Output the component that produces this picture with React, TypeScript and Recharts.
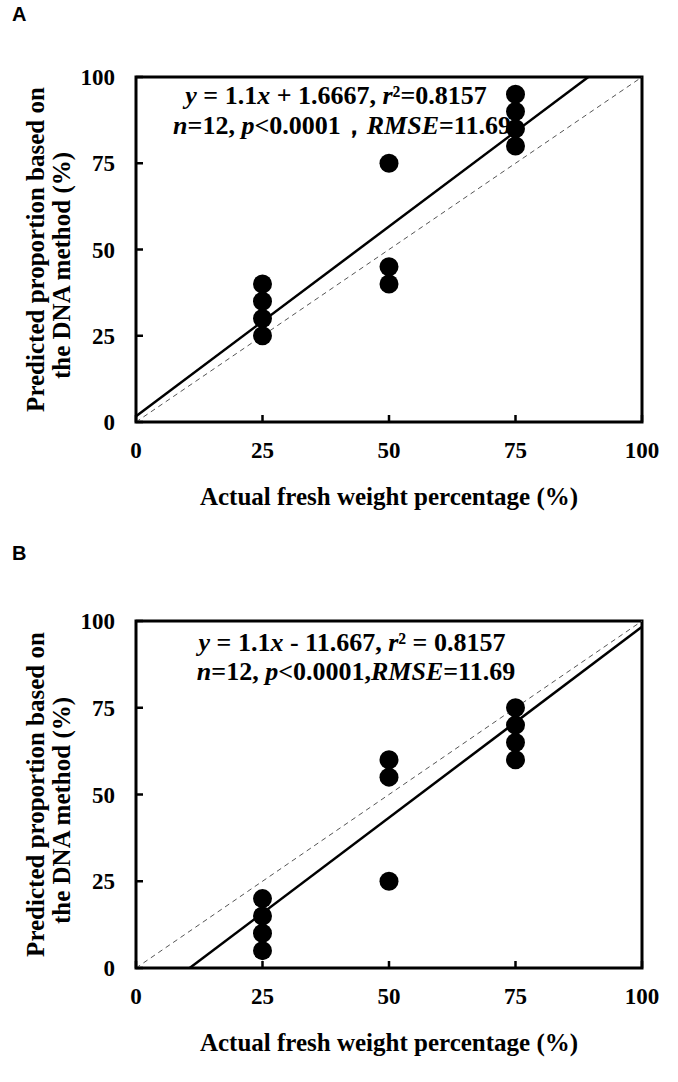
import { ReferenceArea, ReferenceLine, Scatter, ScatterChart, XAxis, YAxis } from "recharts";

const SERIF = '"Liberation Serif", "Times New Roman", serif';
const TICKS = [0, 25, 50, 75, 100];

// panel A: prediction vs actual
const xA = [25, 25, 25, 25, 50, 50, 50, 75, 75, 75, 75];
const yA = [25, 30, 35, 40, 40, 45, 75, 80, 85, 90, 95];
const slopeA = 1.1;
const interceptA = 1.6667;

// panel B
const xB = [25, 25, 25, 25, 50, 50, 50, 75, 75, 75, 75];
const yB = [5, 10, 15, 20, 25, 55, 60, 60, 65, 70, 75];
const slopeB = 1.1;
const interceptB = -11.667;

const tickStyle = { fill: "#000", fontSize: 23, fontWeight: "bold", fontFamily: SERIF };

const Dot = (p: any) => <circle cx={p.cx} cy={p.cy} r={9.5} fill="#000" />;

function YTitle({ viewBox }: any) {
  const mid = viewBox.y + viewBox.height / 2;
  const common = {
    fill: "#000",
    fontSize: 25,
    fontWeight: "bold" as const,
    fontFamily: SERIF,
    textAnchor: "middle" as const,
  };
  return (
    <g>
      <text {...common} transform={`translate(44, ${mid}) rotate(-90)`}>
        Predicted proportion based on
      </text>
      <text {...common} transform={`translate(70, ${mid + 16}) rotate(-90)`}>
        the DNA method (%)
      </text>
    </g>
  );
}

type PanelProps = {
  xs: number[];
  ys: number[];
  slope: number;
  intercept: number;
  height: number;
  axisHeight: number;
};

function Panel({ xs, ys, slope, intercept, height, axisHeight }: PanelProps) {
  const data = xs.map((x, i) => ({ x, y: ys[i] }));
  // fitted line clipped to the 0-100 box
  const x0 = Math.max(0, -intercept / slope);
  const x1 = Math.min(100, (100 - intercept) / slope);

  return (
    <ScatterChart
      width={678}
      height={height}
      margin={{ top: 77, right: 36, left: 0, bottom: 0 }}
      style={{ fontFamily: SERIF }}
    >
      <XAxis
        type="number"
        dataKey="x"
        domain={[0, 100]}
        ticks={TICKS}
        height={axisHeight}
        axisLine={false}
        tick={tickStyle}
        tickSize={-7}
        tickMargin={27}
        tickLine={{ stroke: "#000", strokeWidth: 2.5 }}
        label={{
          value: "Actual fresh weight percentage (%)",
          position: "insideTop",
          offset: 65,
          fill: "#000",
          fontSize: 25,
          fontWeight: "bold",
          fontFamily: SERIF,
        }}
      />
      <YAxis
        type="number"
        dataKey="y"
        domain={[0, 100]}
        ticks={TICKS}
        width={136}
        axisLine={false}
        tick={tickStyle}
        tickSize={-7}
        tickMargin={28}
        tickLine={{ stroke: "#000", strokeWidth: 2.5 }}
        label={<YTitle />}
      />
      <ReferenceLine
        segment={[
          { x: 0, y: 0 },
          { x: 100, y: 100 },
        ]}
        stroke="#555"
        strokeWidth={1}
        strokeDasharray="5 4"
      />
      <ReferenceLine
        segment={[
          { x: x0, y: slope * x0 + intercept },
          { x: x1, y: slope * x1 + intercept },
        ]}
        stroke="#000"
        strokeWidth={2.5}
      />
      <Scatter data={data} shape={Dot} isAnimationActive={false} />
      <ReferenceArea x1={0} x2={100} y1={0} y2={100} fill="none" stroke="#000" strokeWidth={3} />
    </ScatterChart>
  );
}

const noteStyle: React.CSSProperties = {
  position: "absolute",
  transform: "translate(-50%, -50%)",
  whiteSpace: "nowrap",
  fontFamily: SERIF,
  fontWeight: "bold",
  fontSize: 26,
  lineHeight: "30px",
  color: "#000",
};

const letterStyle: React.CSSProperties = {
  position: "absolute",
  left: 12,
  fontFamily: '"Liberation Sans", Arial, sans-serif',
  fontWeight: "bold",
  fontSize: 20,
  lineHeight: "20px",
};

export default function App() {
  return (
    <div style={{ position: "absolute", left: 0, top: 0, width: 678, height: 1082, background: "#fff" }}>
      <div style={{ ...letterStyle, top: 4 }}>A</div>
      <div style={{ ...letterStyle, top: 543 }}>B</div>

      <div style={{ position: "absolute", left: 0, top: 0 }}>
        <Panel xs={xA} ys={yA} slope={slopeA} intercept={interceptA} height={545} axisHeight={123} />
      </div>
      <div style={{ ...noteStyle, left: 336, top: 96 }}>
        <i>y</i> = 1.1<i>x</i> + 1.6667, <i>r</i>²=0.8157
      </div>
      <div style={{ ...noteStyle, left: 342, top: 126 }}>
        <i>n</i>=12, <i>p</i>&lt;0.0001，<i>RMSE</i>=11.69
      </div>

      <div style={{ position: "absolute", left: 0, top: 544 }}>
        <Panel xs={xB} ys={yB} slope={slopeB} intercept={interceptB} height={538} axisHeight={114} />
      </div>
      <div style={{ ...noteStyle, left: 352, top: 643 }}>
        <i>y</i> = 1.1<i>x</i> - 11.667, <i>r</i>² = 0.8157
      </div>
      <div style={{ ...noteStyle, left: 356, top: 672 }}>
        <i>n</i>=12, <i>p</i>&lt;0.0001,<i>RMSE</i>=11.69
      </div>
    </div>
  );
}
